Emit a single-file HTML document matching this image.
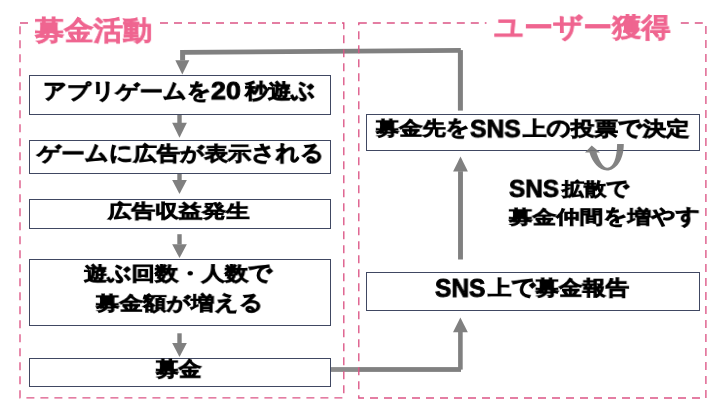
<!DOCTYPE html>
<html lang="ja"><head><meta charset="utf-8"><title>募金活動とユーザー獲得</title>
<style>
html,body{margin:0;padding:0;background:#fff;}
body{width:720px;height:405px;position:relative;overflow:hidden;font-family:"Liberation Sans",sans-serif;font-weight:bold;}
svg{position:absolute;left:0;top:0;}
.t{position:absolute;white-space:nowrap;line-height:1;transform-origin:0 0;color:#000;-webkit-text-stroke-color:#000;will-change:transform;}
.p{color:#ef6590;-webkit-text-stroke-color:#ef6590;}
.k{display:inline-block;transform:scaleY(1.12);transform-origin:50% 98%;}
</style></head><body>
<svg width="720" height="405" viewBox="0 0 720 405">
<polygon points="180.1,49.9 460.8,48.0 460.8,52.7 185.1,54.8 185.1,60.5 180.1,60.5" fill="#808080"/><rect x="457.9" y="50.1" width="5.00" height="60.50" fill="#808080"/><polygon points="175.3,60.2 189.3,60.2 182.3,74.5" fill="#808080"/><rect x="177.3" y="114.4" width="4.40" height="8.60" fill="#808080"/><polygon points="172.15,122.7 186.85,122.7 179.5,137.8" fill="#808080"/><rect x="177.3" y="173.4" width="4.40" height="6.90" fill="#808080"/><polygon points="172.15,180.0 186.85,180.0 179.5,194.1" fill="#808080"/><rect x="177.3" y="234.2" width="4.40" height="10.30" fill="#808080"/><polygon points="172.15,244.2 186.85,244.2 179.5,258.1" fill="#808080"/><rect x="177.3" y="333.3" width="4.40" height="10.10" fill="#808080"/><polygon points="172.15,343.1 186.85,343.1 179.5,357.0" fill="#808080"/><rect x="458.05" y="171.2" width="4.90" height="88.30" fill="#808080"/><polygon points="453.1,171.5 467.9,171.5 460.5,156.4" fill="#808080"/><rect x="458.09999999999997" y="331.9" width="4.60" height="37.70" fill="#808080"/><polygon points="453.0,332.2 467.79999999999995,332.2 460.4,317.6" fill="#808080"/><rect x="330.6" y="367.1" width="28.20" height="4.80" fill="#8c8c8c"/><rect x="358.8" y="367.1" width="102.20" height="4.80" fill="#808080"/>
<rect x="29.5" y="75.5" width="301" height="39" fill="#fff" stroke="#404862" stroke-width="1"/><rect x="29.5" y="140.5" width="301" height="33" fill="#fff" stroke="#404862" stroke-width="1"/><rect x="29.5" y="199.5" width="301" height="29" fill="#fff" stroke="#404862" stroke-width="1"/><rect x="29.5" y="259.5" width="301" height="66" fill="#fff" stroke="#404862" stroke-width="1"/><rect x="29.5" y="358.5" width="301" height="28" fill="#fff" stroke="#404862" stroke-width="1"/><rect x="366.5" y="114.5" width="333" height="36" fill="#fff" stroke="#404862" stroke-width="1"/><rect x="366.5" y="272.5" width="333" height="38" fill="#fff" stroke="#404862" stroke-width="1"/>
<path d="M617.1 144 L623.8 144 C623.8 160 616 170.5 607 170.5 C599 170.5 592 162 589.5 152.5 L585 152.5 L591.7 145.5 L600 152.5 L596.5 152.5 C599 160 603 167.8 607.5 167.8 C613 167.8 617.1 158 617.1 144 Z" fill="#767676" fill-opacity="0.9"/>
<rect x="20" y="23" width="323.8" height="374.8" fill="none" stroke="#dc5485" stroke-width="1.35" stroke-dasharray="8 6"/>
<rect x="358.8" y="23" width="347.1" height="375" fill="none" stroke="#dc5485" stroke-width="1.35" stroke-dasharray="8 6"/>
<rect x="29" y="8" width="128" height="36" fill="#fff"/>
<rect x="486.5" y="8" width="190.5" height="36" fill="#fff"/>
</svg>
<div class="t p" style="left:35.13px;top:16.56px;font-size:30px;-webkit-text-stroke-width:0.65px;transform:scale(0.9757,0.9049)">募金活動</div>
<div class="t p" style="left:494.22px;top:14.30px;font-size:30px;-webkit-text-stroke-width:0.65px;transform:scale(0.9694,0.9025)">ユーザー獲得</div>
<div class="t" style="left:42.55px;top:81.53px;font-size:24px;-webkit-text-stroke-width:0.95px;transform:scale(0.9669,0.8113)"><span class="k">ア</span>プ<span class="k">リ</span>ゲー<span class="k">ム</span><span class="k">を</span></div>
<div class="t" style="left:211.36px;top:79.27px;font-size:25px;-webkit-text-stroke-width:0.9px;transform:scale(1.0804,0.9653)">20</div>
<div class="t" style="left:245.34px;top:80.78px;font-size:24px;-webkit-text-stroke-width:0.95px;transform:scale(0.9595,0.8520)">秒遊<span class="k">ぶ</span></div>
<div class="t" style="left:36.66px;top:143.93px;font-size:24px;-webkit-text-stroke-width:0.95px;transform:scale(0.9739,0.8115)">ゲー<span class="k">ム</span><span class="k">に</span>広告が表示<span class="k">さ</span><span class="k">れ</span><span class="k">る</span></div>
<div class="t" style="left:108.47px;top:201.71px;font-size:24px;-webkit-text-stroke-width:0.95px;transform:scale(0.9828,0.7654)">広告収益発生</div>
<div class="t" style="left:84.09px;top:264.21px;font-size:24px;-webkit-text-stroke-width:0.95px;transform:scale(0.9716,0.8078)">遊<span class="k">ぶ</span>回数・人数<span class="k">で</span></div>
<div class="t" style="left:96.38px;top:294.04px;font-size:24px;-webkit-text-stroke-width:0.95px;transform:scale(0.9790,0.7817)">募金額が増<span class="k">え</span><span class="k">る</span></div>
<div class="t" style="left:156.25px;top:359.47px;font-size:24px;-webkit-text-stroke-width:0.95px;transform:scale(0.9467,0.8404)">募金</div>
<div class="t" style="left:375.67px;top:119.46px;font-size:24px;-webkit-text-stroke-width:0.95px;transform:scale(0.9673,0.7849)">募金先<span class="k">を</span></div>
<div class="t" style="left:470.35px;top:116.97px;font-size:25px;-webkit-text-stroke-width:0.9px;transform:scale(0.9852,0.9653)">SNS</div>
<div class="t" style="left:523.29px;top:118.84px;font-size:24px;-webkit-text-stroke-width:0.95px;transform:scale(0.9792,0.8154)">上<span class="k">の</span>投票<span class="k">で</span>決定</div>
<div class="t" style="left:434.86px;top:276.22px;font-size:25px;-webkit-text-stroke-width:0.9px;transform:scale(0.9793,0.9920)">SNS</div>
<div class="t" style="left:488.29px;top:278.17px;font-size:24px;-webkit-text-stroke-width:0.95px;transform:scale(0.9732,0.8353)">上<span class="k">で</span>募金報告</div>
<div class="t" style="left:508.76px;top:177.19px;font-size:25px;-webkit-text-stroke-width:0.9px;transform:scale(0.9714,0.9547)">SNS</div>
<div class="t" style="left:561.68px;top:179.83px;font-size:24px;-webkit-text-stroke-width:0.95px;transform:scale(0.9209,0.7647)">拡散<span class="k">で</span></div>
<div class="t" style="left:509.18px;top:208.09px;font-size:24px;-webkit-text-stroke-width:0.95px;transform:scale(0.9810,0.7640)">募金仲間<span class="k">を</span>増<span class="k">や</span><span class="k">す</span></div>
</body></html>
